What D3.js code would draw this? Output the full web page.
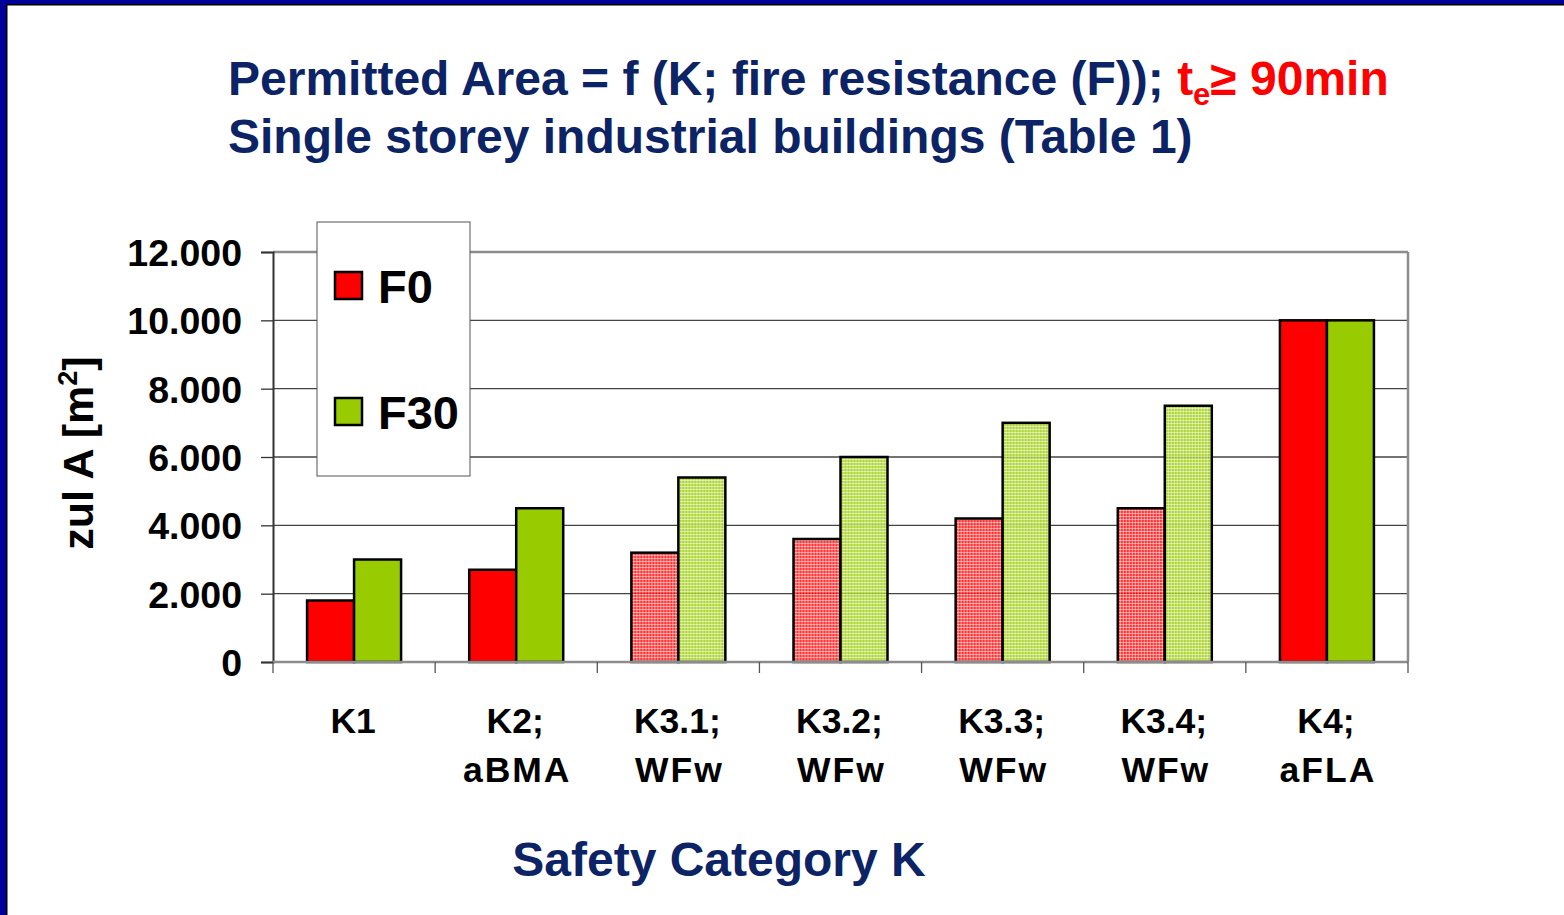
<!DOCTYPE html>
<html>
<head>
<meta charset="utf-8">
<script src="https://cdn.jsdelivr.net/npm/d3@7"></script>
<style>
  html, body { margin: 0; padding: 0; background: #fff; }
  svg { display: block; font-family: "Liberation Sans", Arial, sans-serif; font-weight: bold; }
</style>
</head>
<body>
<div id="chart"></div>
<script>
// data
var categories = ['K1', 'K2', 'K3.1', 'K3.2', 'K3.3', 'K3.4', 'K4'];
var catLine1 = ['K1', 'K2;', 'K3.1;', 'K3.2;', 'K3.3;', 'K3.4;', 'K4;'];
var catLine2 = ['', 'aBMA', 'WFw', 'WFw', 'WFw', 'WFw', 'aFLA'];
var f0 = [1800, 2700, 3200, 3600, 4200, 4500, 10000];
var f30 = [3000, 4500, 5400, 6000, 7000, 7500, 10000];
var hatched = [false, false, true, true, true, true, false];
var yTicks = [0, 2000, 4000, 6000, 8000, 10000, 12000];
var yTickLabels = ['0', '2.000', '4.000', '6.000', '8.000', '10.000', '12.000'];
var seriesNames = ['F0', 'F30'];
var seriesColors = ['#ff0000', '#99cc00'];

var W = 1564, H = 915;
var plot = { left: 273, right: 1408, top: 252, bottom: 662 };

var svg = d3.select('#chart').append('svg')
  .attr('width', W).attr('height', H);

// frame of the slide
svg.append('rect').attr('x', 0).attr('y', 0).attr('width', W).attr('height', 5).attr('fill', '#000099');
svg.append('rect').attr('x', 0).attr('y', 0).attr('width', 6).attr('height', H).attr('fill', '#000099');
svg.append('rect').attr('x', 6).attr('y', 4).attr('width', W).attr('height', 1.5).attr('fill', '#000');
svg.append('rect').attr('x', 6).attr('y', 4).attr('width', 1.5).attr('height', H).attr('fill', '#000');

// dithered fills for the K3 bars
var defs = svg.append('defs');
seriesColors.forEach(function (c, i) {
  var p = defs.append('pattern').attr('id', 'dots' + i)
    .attr('width', 3).attr('height', 3).attr('patternUnits', 'userSpaceOnUse');
  p.append('rect').attr('width', 3).attr('height', 3).attr('fill', c).attr('opacity', 0.8);
  p.append('rect').attr('width', 3).attr('height', 1).attr('fill', '#fff').attr('opacity', 0.5);
  p.append('rect').attr('width', 1).attr('height', 3).attr('fill', '#fff').attr('opacity', 0.5);
});

// titles
var title = svg.append('text').attr('x', 228).attr('y', 95)
  .attr('font-size', 48).attr('fill', '#0c2365');
title.append('tspan').text('Permitted Area = f (K; fire resistance (F)); ');
title.append('tspan').attr('fill', '#ff0000').text('t');
title.append('tspan').attr('fill', '#ff0000').attr('font-size', 31).attr('dy', 10).text('e');
title.append('tspan').attr('fill', '#ff0000').attr('dy', -10).text('\u2265 90min');
svg.append('text').attr('x', 228).attr('y', 153)
  .attr('font-size', 48).attr('fill', '#0c2365')
  .text('Single storey industrial buildings (Table 1)');

var x = d3.scaleBand().domain(categories).range([plot.left, plot.right]).padding(0);
var y = d3.scaleLinear().domain([0, 12000]).range([plot.bottom, plot.top]);
var barW = 47;

// grid lines
svg.append('g').selectAll('line').data(yTicks.slice(1)).enter().append('line')
  .attr('x1', plot.left).attr('x2', plot.right)
  .attr('y1', function (d) { return y(d); }).attr('y2', function (d) { return y(d); })
  .attr('stroke', function (d) { return d === 12000 ? '#8c8c8c' : '#444'; })
  .attr('stroke-width', function (d) { return d === 12000 ? 2.5 : 1.3; });
svg.append('line').attr('x1', plot.right).attr('x2', plot.right)
  .attr('y1', plot.top).attr('y2', plot.bottom).attr('stroke', '#8c8c8c').attr('stroke-width', 2.5);

// bars
var groups = svg.append('g').selectAll('g').data(categories).enter().append('g')
  .attr('transform', function (d) { return 'translate(' + (x(d) + x.bandwidth() / 2) + ',0)'; });
[f0, f30].forEach(function (vals, s) {
  groups.append('rect')
    .attr('x', s === 0 ? -barW : 0)
    .attr('width', barW)
    .attr('y', function (d, i) { return y(vals[i]); })
    .attr('height', function (d, i) { return y(0) - y(vals[i]); })
    .attr('fill', function (d, i) { return hatched[i] ? 'url(#dots' + s + ')' : seriesColors[s]; })
    .attr('stroke', '#000').attr('stroke-width', 2.5);
});

// y axis
var yAxis = svg.append('g').attr('transform', 'translate(' + plot.left + ',0)')
  .call(d3.axisLeft(y).tickValues(yTicks).tickSize(12)
    .tickFormat(function (d, i) { return yTickLabels[i]; }));
yAxis.select('.domain').attr('stroke', '#333').attr('stroke-width', 2);
yAxis.selectAll('.tick line').attr('stroke', '#333').attr('stroke-width', 1.3);
yAxis.selectAll('.tick text').attr('font-size', 37.5).attr('font-family', 'Liberation Sans, Arial, sans-serif')
  .attr('font-weight', 'bold').attr('fill', '#000').attr('x', -31).attr('dy', '0.36em');

// x axis
var xAxis = svg.append('g').attr('transform', 'translate(0,' + plot.bottom + ')');
xAxis.append('line').attr('x1', plot.left).attr('x2', plot.right)
  .attr('stroke', '#8c8c8c').attr('stroke-width', 2.5);
xAxis.selectAll('.xt').data(categories.concat(['end'])).enter().append('line')
  .attr('x1', function (d, i) { return plot.left + i * x.bandwidth(); })
  .attr('x2', function (d, i) { return plot.left + i * x.bandwidth(); })
  .attr('y1', 0).attr('y2', 11).attr('stroke', '#555').attr('stroke-width', 1.3);
var xl = xAxis.selectAll('.xl').data(categories).enter().append('text')
  .attr('text-anchor', 'middle').attr('font-size', 35.5).attr('fill', '#000')
  .attr('x', function (d) { return x(d) + x.bandwidth() / 2 - 1; });
xl.append('tspan').attr('y', 71).text(function (d, i) { return catLine1[i]; });
xl.append('tspan').attr('y', 120).attr('letter-spacing', 2)
  .attr('x', function (d) { return x(d) + x.bandwidth() / 2 + 1; })
  .text(function (d, i) { return catLine2[i]; });

// axis titles
svg.append('text').attr('x', 719).attr('y', 876).attr('text-anchor', 'middle')
  .attr('font-size', 48).attr('fill', '#0c2365').text('Safety Category K');
var yt = svg.append('text').attr('transform', 'translate(93,453) rotate(-90)')
  .attr('text-anchor', 'middle').attr('font-size', 43).attr('fill', '#000');
yt.append('tspan').text('zul A [m');
yt.append('tspan').attr('font-size', 27).attr('dy', -16).text('2');
yt.append('tspan').attr('dy', 16).text(']');

// legend
var lg = svg.append('g');
lg.append('rect').attr('x', 317).attr('y', 222).attr('width', 153).attr('height', 254)
  .attr('fill', '#fff').attr('stroke', '#555').attr('stroke-width', 1);
seriesNames.forEach(function (n, i) {
  var yy = 272 + i * 126;
  lg.append('rect').attr('x', 335).attr('y', yy).attr('width', 27).attr('height', 27)
    .attr('fill', seriesColors[i]).attr('stroke', '#000').attr('stroke-width', 2.5);
  lg.append('text').attr('x', 378).attr('y', yy + 31).attr('font-size', 47).attr('fill', '#000').text(n);
});
</script>
</body>
</html>
